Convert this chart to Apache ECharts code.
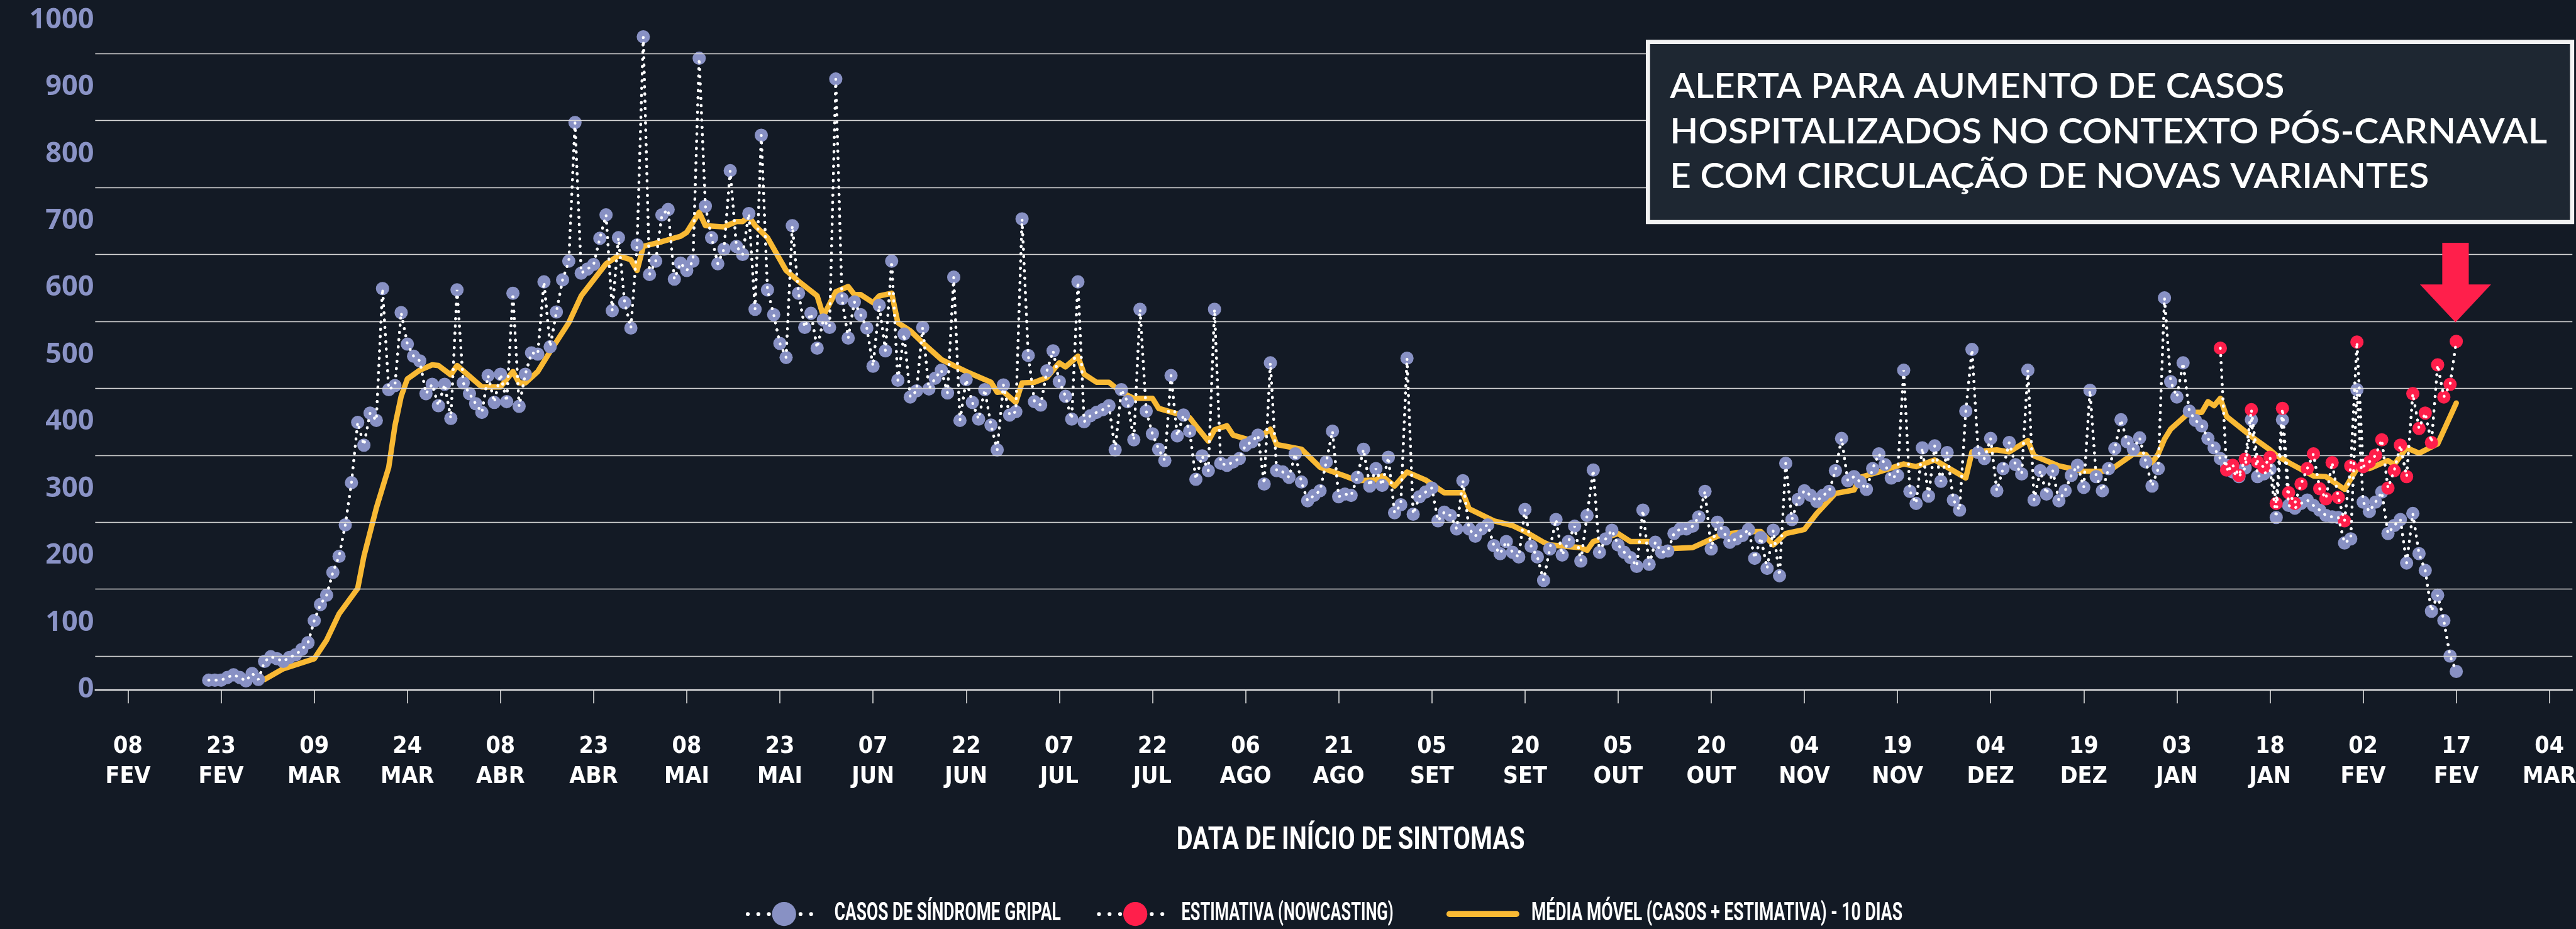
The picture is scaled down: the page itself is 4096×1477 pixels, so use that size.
<!DOCTYPE html>
<html>
<head>
<meta charset="utf-8">
<title>Casos de síndrome gripal</title>
<script src="https://cdn.jsdelivr.net/npm/echarts@6.0.0/dist/echarts.min.js"></script>
<style>
  html, body { margin: 0; padding: 0; background: #131a25; }
  #chart { width: 4096px; height: 1477px; }
</style>
</head>
<body>
<div id="chart"></div>
<script>
// escala: referencia 4276x1542 -> janela 4096x1477
const S = 4096 / 4276;
const px = v => v * S;

// dia 0 = 08/02/2020
const casosInicio = 13;
const casos = [
  14, 14, 14, 18, 22, 18, 13, 24, 15, 42,
  49, 46, 42, 48, 52, 60, 70, 103, 127, 141,
  175, 199, 246, 309, 399, 365, 413, 402, 599, 448,
  454, 563, 516, 498, 491, 442, 456, 424, 456, 405,
  597, 458, 442, 427, 414, 469, 429, 471, 430, 592,
  423, 471, 503, 501, 609, 512, 564, 612, 640, 847,
  622, 628, 635, 674, 709, 566, 675, 578, 540, 664,
  975, 620, 640, 709, 717, 613, 637, 626, 640, 943,
  722, 675, 636, 658, 775, 662, 650, 711, 568, 828,
  597, 560, 517, 496, 693, 592, 541, 562, 510, 552,
  541, 912, 584, 525, 579, 560, 540, 483, 574, 506,
  640, 462, 531, 437, 446, 541, 449, 465, 477, 443,
  616, 402, 463, 429, 404, 448, 395, 358, 455, 410,
  415, 703, 499, 430, 425, 476, 506, 460, 438, 404,
  609, 400, 409, 414, 418, 424, 358, 448, 430, 373,
  568, 416, 382, 359, 342, 469, 379, 410, 386, 314,
  349, 327, 568, 338, 335, 340, 345, 365, 370, 380,
  307, 488, 327, 325, 317, 352, 310, 282, 290, 297,
  340, 386, 288, 292, 290, 317, 359, 304, 330, 305,
  347, 264, 276, 495, 262, 288, 295, 301, 252, 265,
  260, 240, 312, 240, 229, 240, 246, 215, 203, 221,
  205, 198, 269, 214, 198, 163, 210, 254, 201, 221,
  244, 192, 260, 328, 205, 225, 238, 216, 205, 197,
  184, 268, 187, 220, 205, 207, 233, 240, 240, 244,
  258, 296, 210, 250, 235, 220, 225, 230, 239, 196,
  227, 181, 238, 170, 338, 254, 284, 297, 290, 281,
  290, 296, 327, 375, 312, 318, 310, 299, 330, 352,
  336, 316, 320, 477, 296, 278, 361, 289, 364, 311,
  354, 283, 268, 416, 508, 354, 345, 375, 297, 330,
  369, 336, 322, 477, 283, 327, 292, 327, 282, 297,
  320, 335, 302, 447, 318, 297, 330, 360, 403, 370,
  359, 376, 340, 304, 330, 585, 460, 437, 488, 416,
  402, 394, 375, 361, 345, 335, 325, 318, 331, 403,
  318, 322, 329, 257, 403, 275, 271, 278, 283, 275,
  268, 260, 258, 257, 219, 225, 448, 280, 266, 280,
  295, 233, 245, 254, 189, 263, 203, 178, 117, 141,
  103, 50, 27
];

const estimativaInicio = 337;
const estimativa = [
  510, 328, 335, 320, 344, 418, 340, 332, 347, 278,
  420, 294, 278, 307, 330, 352, 300, 285, 339, 287,
  252, 334, 519, 333, 340, 350, 373, 301, 327, 365,
  318, 442, 390, 413, 369, 485, 437, 456, 520
];

const mediaDias = [
  22, 25, 30, 32, 34, 37, 38, 40, 42, 43, 44, 45, 47, 49, 50, 52, 53, 57, 60, 62,
  63, 64, 66, 68, 71, 73, 75, 77, 79, 81, 82, 83, 86, 89, 90, 92, 93, 96, 98, 99,
  100, 101, 103, 106, 108, 111, 112, 114, 116, 117, 118, 120, 121, 123, 124, 126, 128, 131, 135, 137,
  139, 140, 141, 143, 144, 146, 148, 150, 151, 153, 154, 156, 158, 160, 162, 165, 166, 169, 171, 172,
  174, 175, 177, 178, 181, 183, 184, 185, 189, 192, 196, 198, 201, 202, 204, 206, 209, 212, 215, 216,
  220, 223, 225, 228, 229, 234, 235, 236, 240, 242, 245, 247, 252, 256, 258, 261, 263, 265, 267, 270,
  272, 275, 278, 279, 282, 286, 288, 291, 296, 297, 301, 303, 306, 307, 311, 315, 319, 323, 325, 326,
  327, 328, 329, 332, 334, 335, 336, 337, 338, 342, 345, 346, 348, 352, 354, 357, 359, 361, 364, 365,
  367, 369, 372, 375
];
const mediaValores = [
  15, 31, 46, 74, 113, 151, 199, 271, 332, 394, 438, 464, 477, 485, 484, 470, 484, 452, 452, 475,
  458, 458, 475, 505, 548, 588, 612, 636, 648, 642, 626, 662, 669, 677, 683, 713, 693, 691, 699, 699,
  707, 693, 675, 626, 610, 588, 558, 594, 602, 590, 590, 578, 588, 592, 548, 536, 518, 493, 475, 467,
  459, 444, 445, 429, 458, 459, 466, 488, 482, 498, 471, 459, 459, 444, 435, 435, 420, 412, 406, 394,
  371, 388, 394, 380, 372, 382, 389, 366, 359, 332, 319, 312, 313, 319, 304, 325, 313, 294, 294, 270,
  252, 245, 236, 220, 216, 212, 208, 221, 233, 221, 221, 210, 212, 229, 233, 236, 236, 216, 233, 239,
  263, 293, 298, 317, 325, 337, 333, 343, 316, 355, 358, 355, 372, 349, 334, 326, 326, 352, 351, 339,
  352, 374, 389, 414, 414, 430, 424, 435, 408, 378, 358, 350, 339, 319, 318, 299, 330, 330, 342, 336,
  361, 353, 367, 428
];

const passoX = 15;
const rotulosX = [
  '08\nFEV', '23\nFEV', '09\nMAR', '24\nMAR', '08\nABR', '23\nABR', '08\nMAI', '23\nMAI', '07\nJUN',
  '22\nJUN', '07\nJUL', '22\nJUL', '06\nAGO', '21\nAGO', '05\nSET', '20\nSET', '05\nOUT', '20\nOUT',
  '04\nNOV', '19\nNOV', '04\nDEZ', '19\nDEZ', '03\nJAN', '18\nJAN', '02\nFEV', '17\nFEV', '04\nMAR'
];
const rotulosY = [0, 100, 200, 300, 400, 500, 600, 700, 800, 900, 1000];
const linhasGrade = [50, 150, 250, 350, 450, 550, 650, 750, 850, 950];

const nomeCasos = 'CASOS DE SÍNDROME GRIPAL';
const nomeEstimativa = 'ESTIMATIVA (NOWCASTING)';
const nomeMedia = 'MÉDIA MÓVEL (CASOS + ESTIMATIVA) - 10 DIAS';
const tituloX = 'DATA DE INÍCIO DE SINTOMAS';
const alerta = [
  'ALERTA PARA AUMENTO DE CASOS',
  'HOSPITALIZADOS NO CONTEXTO PÓS-CARNAVAL',
  'E COM CIRCULAÇÃO DE NOVAS VARIANTES'
];

const casosData = casos.map((v, i) => [casosInicio + i, v]);
const estimativaData = estimativa.map((v, i) => [estimativaInicio + i, v]);
const mediaData = mediaDias.map((d, i) => [d, mediaValores[i]]);

const fonteCond = "'DejaVu Sans Condensed', 'Roboto', sans-serif";
const corCasos = '#8891c4';
const corEstimativa = '#ff1f4b';
const corMedia = '#f9b934';

const pontilhado = {
  color: '#ffffff',
  width: px(4.6),
  type: [0.5, px(11.5)],
  cap: 'round'
};

// texto "condensado": mede a largura natural e comprime na horizontal
const medidor = document.createElement('canvas').getContext('2d');
function textoEstreito(texto, x, yCentro, tamanho, largura, align, fonte) {
  const font = fonte.replace('{s}', px(tamanho));
  medidor.font = font;
  const natural = medidor.measureText(texto).width || 1;
  return {
    type: 'text',
    z: 30,
    x: px(x),
    y: px(yCentro),
    scaleX: px(largura) / natural,
    style: {
      text: texto,
      fill: '#ffffff',
      font: font,
      align: align,
      verticalAlign: 'middle'
    }
  };
}

const chart = echarts.init(document.getElementById('chart'), null, { renderer: 'canvas' });

const legendaBase = {
  orient: 'horizontal',
  top: px(1517 - 25),
  padding: 0,
  itemWidth: px(121),
  itemHeight: px(50),
  selectedMode: false,
  formatter: () => '',
  textStyle: { fontSize: 1 }
};

const fonteRotulo = 'bold {s}px Roboto, sans-serif';
const fonteAlerta = '600 {s}px Lato, sans-serif';

const option = {
  backgroundColor: '#131a25',
  animation: false,
  grid: {
    left: px(158),
    right: px(6),
    top: px(20),
    bottom: px(1542 - 1187),
    containLabel: false,
    outerBoundsMode: 'none'
  },
  xAxis: {
    type: 'value',
    min: -5.28,
    max: 393.7,
    interval: passoX,
    axisLine: { show: true, lineStyle: { color: '#f0f0f0', width: px(2) } },
    axisTick: {
      show: true,
      length: px(23),
      lineStyle: { color: '#e6e6e6', width: px(1.6) },
      customValues: rotulosX.map((_, i) => i * passoX)
    },
    axisLabel: {
      customValues: rotulosX.map((_, i) => i * passoX),
      formatter: v => {
        const k = Math.round(v / passoX);
        return (Math.abs(v - k * passoX) < 0.01 && rotulosX[k]) ? rotulosX[k] : '';
      },
      color: '#ffffff',
      fontFamily: fonteCond,
      fontWeight: 'bold',
      fontSize: px(39),
      lineHeight: px(50),
      margin: px(28),
      showMinLabel: true,
      showMaxLabel: true
    },
    splitLine: { show: false }
  },
  yAxis: {
    type: 'value',
    min: -38.2,
    max: 1012,
    interval: 100,
    axisLine: { show: false },
    axisTick: { show: false },
    splitLine: { show: false },
    axisLabel: {
      customValues: rotulosY,
      formatter: v => (v >= 0 && v % 100 === 0) ? String(v) : '',
      color: '#8a93c6',
      fontFamily: "'Open Sans', 'Lato', sans-serif",
      fontWeight: 'bold',
      fontSize: px(47),
      margin: px(2),
      showMinLabel: true,
      showMaxLabel: true
    }
  },
  legend: [
    Object.assign({}, legendaBase, {
      left: px(1238),
      data: [{ name: nomeCasos, lineStyle: { type: [0.5, px(17)], width: px(6) } }]
    }),
    Object.assign({}, legendaBase, {
      left: px(1821),
      data: [{ name: nomeEstimativa, lineStyle: { type: [0.5, px(17)], width: px(6) } }]
    }),
    Object.assign({}, legendaBase, {
      left: px(2401),
      data: [{
        name: nomeMedia,
        icon: 'path://M5,0 L115,0 A5,5 0 0 1 115,10 L5,10 A5,5 0 0 1 5,0 Z'
      }]
    })
  ],
  series: [
    {
      name: 'grade',
      type: 'line',
      data: [],
      silent: true,
      z: 1,
      markLine: {
        silent: true,
        symbol: ['none', 'none'],
        label: { show: false },
        lineStyle: { color: '#d8d8d8', width: px(1.4), type: 'solid' },
        emphasis: { disabled: true },
        data: linhasGrade.map(v => ({ yAxis: v }))
      }
    },
    {
      name: nomeMedia,
      type: 'line',
      data: mediaData,
      symbol: 'none',
      z: 3,
      itemStyle: { color: corMedia },
      lineStyle: { color: corMedia, width: px(9), join: 'round', cap: 'round' }
    },
    {
      name: nomeCasos,
      type: 'line',
      data: casosData,
      symbol: 'circle',
      symbolSize: px(22),
      z: 4,
      itemStyle: { color: corCasos },
      lineStyle: pontilhado
    },
    {
      name: nomeEstimativa,
      type: 'line',
      data: estimativaData,
      symbol: 'circle',
      symbolSize: px(22),
      z: 5,
      itemStyle: { color: corEstimativa },
      lineStyle: pontilhado
    },
    // pontilhado branco por cima dos marcadores
    {
      name: 'casos-pontos',
      type: 'line',
      data: casosData,
      symbol: 'none',
      silent: true,
      z: 6,
      lineStyle: pontilhado
    },
    {
      name: 'estimativa-pontos',
      type: 'line',
      data: estimativaData,
      symbol: 'none',
      silent: true,
      z: 6,
      lineStyle: pontilhado
    }
  ],
  graphic: [
    {
      type: 'rect',
      z: 20,
      shape: { x: px(2735.5), y: px(69.5), width: px(1534), height: px(299) },
      style: { fill: '#1e2732', stroke: '#f2f2f2', lineWidth: px(7) }
    },
    textoEstreito(alerta[0], 2772, 144, 58, 1020, 'left', fonteAlerta),
    textoEstreito(alerta[1], 2772, 219, 58, 1456, 'left', fonteAlerta),
    textoEstreito(alerta[2], 2772, 293, 58, 1260, 'left', fonteAlerta),
    {
      type: 'polygon',
      z: 20,
      shape: {
        points: [
          [4054, 403], [4098, 403], [4098, 472], [4135, 472],
          [4076, 535], [4017, 472], [4054, 472]
        ].map(p => [px(p[0]), px(p[1])])
      },
      style: { fill: corEstimativa }
    },
    textoEstreito(tituloX, 2242, 1396, 53, 578, 'center', fonteRotulo),
    textoEstreito(nomeCasos, 1385, 1517, 43, 376, 'left', fonteRotulo),
    textoEstreito(nomeEstimativa, 1961, 1517, 43, 352, 'left', fonteRotulo),
    textoEstreito(nomeMedia, 2542, 1517, 43, 616, 'left', fonteRotulo)
  ]
};

chart.setOption(option);
</script>
</body>
</html>
